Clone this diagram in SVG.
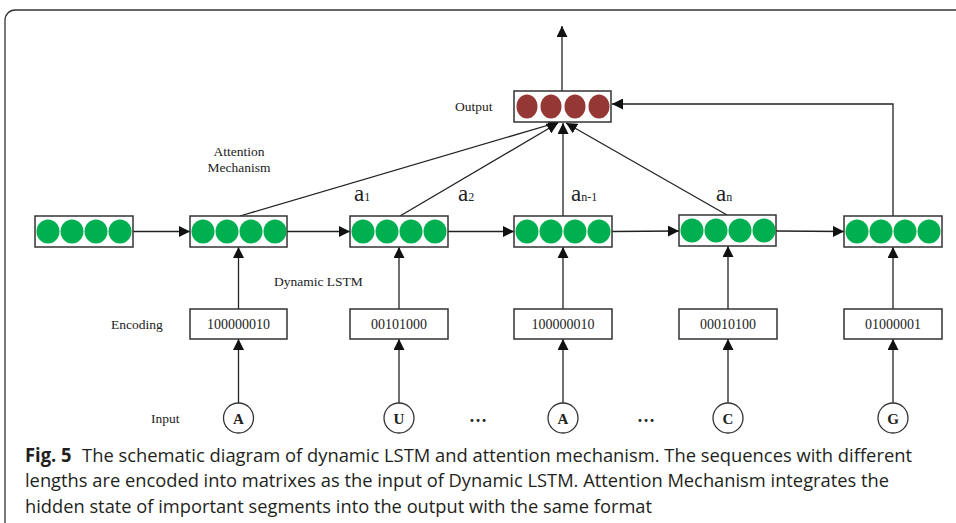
<svg xmlns="http://www.w3.org/2000/svg" width="956" height="523" viewBox="0 0 956 523">
<style>
.t{font-family:"Liberation Serif","Times New Roman",serif;fill:#222;}
.lbl{font-size:13.5px;}
.code{font-size:14px;text-anchor:middle;}
.inp{font-size:15px;font-weight:bold;text-anchor:middle;}
.a{font-size:23px;}
.sub{font-size:12px;}
.box{fill:#fff;stroke:#333;stroke-width:1.5;}
.g{fill:#00B050;}
.r{fill:#953735;}
.ln{stroke:#222;stroke-width:1.3;fill:none;}
.cap{font-family:"Open Sans","Noto Sans","Liberation Sans",sans-serif;font-size:19px;fill:#231F20;}
</style>
<defs>
<marker id="ah" viewBox="0 0 10 10" refX="10" refY="5" markerWidth="11" markerHeight="11" markerUnits="userSpaceOnUse" orient="auto">
<path d="M0,0 L10,5 L0,10 z" fill="#111"/>
</marker>
<g id="greens">
<ellipse class="g" cx="13" cy="15.5" rx="11.5" ry="12"/>
<ellipse class="g" cx="37" cy="15.5" rx="11.5" ry="12"/>
<ellipse class="g" cx="61" cy="15.5" rx="11.5" ry="12"/>
<ellipse class="g" cx="85" cy="15.5" rx="11.5" ry="12"/>
</g>
</defs>
<rect x="5" y="10" width="1000" height="600" rx="10" fill="#fff" stroke="#333" stroke-width="1.3"/>

<g id="connectors">
<line class="ln" x1="562" y1="91" x2="562" y2="26" marker-end="url(#ah)"/>
<polyline class="ln" points="893,216 893,104 612,104" marker-end="url(#ah)"/>
<line class="ln" x1="240" y1="216" x2="559" y2="122" marker-end="url(#ah)"/>
<line class="ln" x1="400" y1="216" x2="558" y2="123" marker-end="url(#ah)"/>
<line class="ln" x1="563" y1="216" x2="563" y2="123" marker-end="url(#ah)"/>
<line class="ln" x1="727" y1="215" x2="566" y2="123" marker-end="url(#ah)"/>
<line class="ln" x1="133" y1="231.5" x2="190" y2="231.5" marker-end="url(#ah)"/>
<line class="ln" x1="287" y1="231.5" x2="350" y2="231.5" marker-end="url(#ah)"/>
<line class="ln" x1="448" y1="231.5" x2="514" y2="231.5" marker-end="url(#ah)"/>
<line class="ln" x1="612" y1="231.5" x2="679" y2="231" marker-end="url(#ah)"/>
<line class="ln" x1="776" y1="231" x2="844" y2="231.5" marker-end="url(#ah)"/>
<line class="ln" x1="238.5" y1="309" x2="238.5" y2="247" marker-end="url(#ah)"/>
<line class="ln" x1="399" y1="309" x2="399" y2="247" marker-end="url(#ah)"/>
<line class="ln" x1="563" y1="309" x2="563" y2="247" marker-end="url(#ah)"/>
<line class="ln" x1="728" y1="309" x2="728" y2="246" marker-end="url(#ah)"/>
<line class="ln" x1="893" y1="309" x2="893" y2="247" marker-end="url(#ah)"/>
<line class="ln" x1="238.5" y1="403" x2="238.5" y2="339" marker-end="url(#ah)"/>
<line class="ln" x1="399" y1="403" x2="399" y2="339" marker-end="url(#ah)"/>
<line class="ln" x1="563" y1="403" x2="563" y2="339" marker-end="url(#ah)"/>
<line class="ln" x1="728" y1="403" x2="728" y2="339" marker-end="url(#ah)"/>
<line class="ln" x1="893" y1="403" x2="893" y2="339" marker-end="url(#ah)"/>
</g>

<g id="output">
<rect class="box" x="514" y="91" width="97" height="31"/>
<ellipse class="r" cx="527" cy="106.5" rx="10.5" ry="12"/>
<ellipse class="r" cx="551" cy="106.5" rx="10.5" ry="12"/>
<ellipse class="r" cx="575" cy="106.5" rx="10.5" ry="12"/>
<ellipse class="r" cx="599" cy="106.5" rx="10.5" ry="12"/>
</g>

<g id="lstm0"><rect class="box" x="35" y="216" width="98" height="31"/><use href="#greens" x="35" y="216"/></g>
<g id="lstm1"><rect class="box" x="190" y="216" width="97" height="31"/><use href="#greens" x="190" y="216"/></g>
<g id="lstm2"><rect class="box" x="350" y="216" width="98" height="31"/><use href="#greens" x="350" y="216"/></g>
<g id="lstm3"><rect class="box" x="514" y="216" width="98" height="31"/><use href="#greens" x="514" y="216"/></g>
<g id="lstm4"><rect class="box" x="679" y="215" width="97" height="31"/><use href="#greens" x="679" y="215"/></g>
<g id="lstm5"><rect class="box" x="844" y="216" width="98" height="31"/><use href="#greens" x="844" y="216"/></g>

<g id="enc1"><rect class="box" x="190" y="309" width="97" height="30"/><text class="t code" x="238.5" y="329">100000010</text></g>
<g id="enc2"><rect class="box" x="350" y="309" width="98" height="30"/><text class="t code" x="399" y="329">00101000</text></g>
<g id="enc3"><rect class="box" x="514" y="309" width="98" height="30"/><text class="t code" x="563" y="329">100000010</text></g>
<g id="enc4"><rect class="box" x="679" y="309" width="98" height="30"/><text class="t code" x="728" y="329">00010100</text></g>
<g id="enc5"><rect class="box" x="844" y="309" width="98" height="30"/><text class="t code" x="893" y="329">01000001</text></g>

<g id="in1"><circle cx="238.5" cy="418" r="15" fill="#fff" stroke="#333" stroke-width="1.3"/><text class="t inp" x="238.5" y="423.5">A</text></g>
<g id="in2"><circle cx="399" cy="418" r="15" fill="#fff" stroke="#333" stroke-width="1.3"/><text class="t inp" x="399" y="423.5">U</text></g>
<g id="in3"><circle cx="563" cy="418" r="15" fill="#fff" stroke="#333" stroke-width="1.3"/><text class="t inp" x="563" y="423.5">A</text></g>
<g id="in4"><circle cx="728" cy="418" r="15" fill="#fff" stroke="#333" stroke-width="1.3"/><text class="t inp" x="728" y="423.5">C</text></g>
<g id="in5"><circle cx="893" cy="418" r="15" fill="#fff" stroke="#333" stroke-width="1.3"/><text class="t inp" x="893" y="423.5">G</text></g>

<g id="labels">
<text class="t lbl" x="455" y="111">Output</text>
<text class="t lbl" x="239" y="156" text-anchor="middle">Attention</text>
<text class="t lbl" x="239" y="172" text-anchor="middle">Mechanism</text>
<text class="t lbl" x="274" y="286" font-size="14">Dynamic LSTM</text>
<text class="t lbl" x="111" y="329" font-size="14">Encoding</text>
<text class="t lbl" x="151" y="423">Input</text>
<text class="t" x="478" y="422" font-size="18" font-weight="bold" text-anchor="middle">…</text>
<text class="t" x="646" y="422" font-size="18" font-weight="bold" text-anchor="middle">…</text>
<text class="t a" x="354" y="201">a<tspan class="sub">1</tspan></text>
<text class="t a" x="458" y="201">a<tspan class="sub">2</tspan></text>
<text class="t a" x="571" y="201">a<tspan class="sub">n-1</tspan></text>
<text class="t a" x="716" y="201">a<tspan class="sub">n</tspan></text>
</g>

<g id="caption">
<text class="cap" x="25" y="462" textLength="887" lengthAdjust="spacingAndGlyphs"><tspan font-weight="bold">Fig. 5</tspan><tspan dx="6"> The schematic diagram of dynamic LSTM and attention mechanism. The sequences with different</tspan></text>
<text class="cap" x="25" y="487" textLength="864" lengthAdjust="spacingAndGlyphs">lengths are encoded into matrixes as the input of Dynamic LSTM. Attention Mechanism integrates the</text>
<text class="cap" x="25" y="513" textLength="627" lengthAdjust="spacingAndGlyphs">hidden state of important segments into the output with the same format</text>
</g>
</svg>
